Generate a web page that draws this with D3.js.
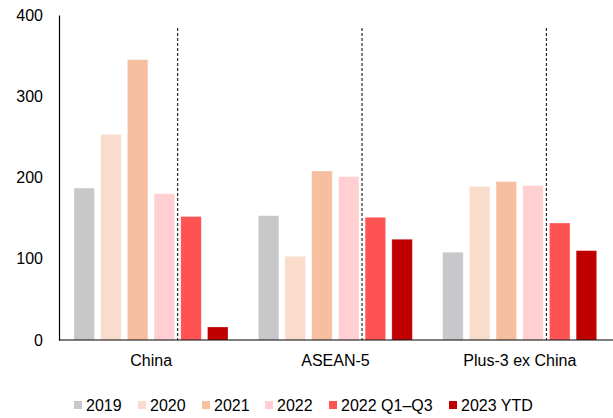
<!DOCTYPE html>
<html><head><meta charset="utf-8">
<script src="https://cdn.jsdelivr.net/npm/d3@7"></script>
<style>body{margin:0;background:#fff}svg{display:block;font-family:"Liberation Sans",Arial,sans-serif}</style>
</head><body><svg id="c" width="613" height="418"></svg>
<script>
const categories = ["China", "ASEAN-5", "Plus-3 ex China"];
const seriesNames = ["2019", "2020", "2021", "2022", "2022 Q1\u2013Q3", "2023 YTD"];
const v2019 = [187, 153, 108];
const v2020 = [253, 103, 189];
const v2021 = [345, 208, 195];
const v2022 = [180, 201, 190];
const v2022q = [152, 151, 144];
const v2023 = [16, 124, 110];
const yTicks = [0, 100, 200, 300, 400];
const colors = ["#c8c8ca", "#f9dccc", "#f6c0a0", "#ffcfd1", "#ff5252", "#c00000"];

const values = [v2019, v2020, v2021, v2022, v2022q, v2023];
const svg = d3.select("#c");
const mLeft = 59, mRight = 613, mTop = 15, mBottom = 340;
const FONT = "Liberation Sans, Arial, sans-serif";

const y = d3.scaleLinear().domain([0, 400]).range([mBottom, mTop]);
const x0 = d3.scaleBand().domain(categories).range([mLeft, mRight - 1]).padding(0);
const x1 = d3.scaleBand().domain(seriesNames).range([15, 169]).paddingInner(0.232).paddingOuter(0);
const color = d3.scaleOrdinal().domain(seriesNames).range(colors);

// y axis
const yAxis = d3.axisLeft(y).tickValues(yTicks).tickSize(0).tickPadding(16);
const gy = svg.append("g").attr("transform", `translate(${mLeft},0)`).call(yAxis);
gy.select(".domain").attr("stroke", "#000").attr("stroke-width", 1.2);
gy.selectAll("text").attr("font-size", 16).attr("fill", "#000").attr("font-family", FONT);

// bars
const groups = svg.append("g").selectAll("g").data(categories).join("g")
  .attr("transform", d => `translate(${x0(d)},0)`);
groups.selectAll("rect").data((c, ci) => seriesNames.map((s, si) => ({s, v: values[si][ci]})))
  .join("rect")
  .attr("x", d => x1(d.s))
  .attr("width", x1.bandwidth())
  .attr("y", d => y(d.v))
  .attr("height", d => y(0) - y(d.v))
  .attr("fill", d => color(d.s))
  .attr("stroke", "#ffffff").attr("stroke-opacity", 0.35).attr("stroke-width", 0.8);

// dashed separators
const sepX = (x1("2022") + x1.bandwidth() + x1("2022 Q1\u2013Q3")) / 2;
groups.append("line")
  .attr("x1", sepX).attr("x2", sepX)
  .attr("y1", y(384)).attr("y2", y(0))
  .attr("stroke", "#000").attr("stroke-width", 1).attr("stroke-dasharray", "3,2");

// x axis
const xAxis = d3.axisBottom(x0).tickSize(0).tickPadding(15);
const gx = svg.append("g").attr("transform", `translate(0,${mBottom})`).call(xAxis);
gx.select(".domain").attr("stroke", "#000").attr("stroke-width", 1.2).attr("d", `M${mLeft},0H${mRight}`);
gx.selectAll("text").attr("font-size", 16).attr("fill", "#000").attr("font-family", FONT);

// legend
const legX = [74, 138, 202, 265, 329, 449];
const leg = svg.append("g").selectAll("g").data(seriesNames).join("g")
  .attr("transform", (d, i) => `translate(${legX[i]},405)`);
leg.append("rect").attr("x", 0).attr("y", -4).attr("width", 8).attr("height", 8).attr("fill", d => color(d));
leg.append("text").attr("x", 12).attr("y", 0).attr("dy", "0.35em").attr("font-size", 16).attr("fill", "#000").attr("font-family", FONT).text(d => d);
</script></body></html>
